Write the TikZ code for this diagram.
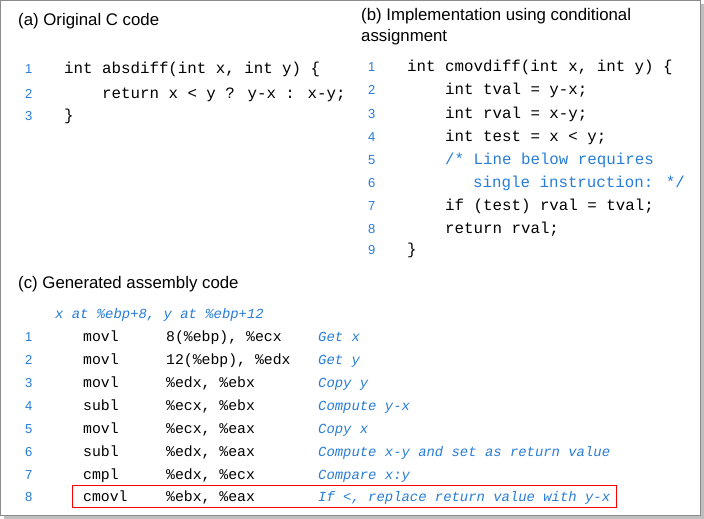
\documentclass[tikz,border=0pt]{standalone}
\usepackage{fontspec}
\setmainfont{Liberation Sans}
\newfontfamily\codefont{Liberation Mono}
\usetikzlibrary{positioning}
\definecolor{codeblue}{RGB}{40,125,215}
\begin{document}
\begin{tikzpicture}[x=1pt,y=-1pt,
        txt/.style = {anchor=base west, inner sep=0pt},
        head/.style = {txt, font=\fontsize{16.8}{19}\selectfont},
        num/.style = {txt, text=codeblue, font=\fontsize{13}{15}\selectfont},
        code/.style = {txt, font=\codefont\fontsize{15.8}{18}\selectfont},
        asm/.style = {txt, font=\codefont\fontsize{14.8}{17}\selectfont},
        note/.style = {txt, text=codeblue, font=\codefont\itshape\fontsize{13.9}{16}\selectfont}]

        \useasboundingbox (0,0) rectangle (704,519);
        \fill[black!25] (4,4) rectangle (704,519);
        \draw[black!45,fill=white] (0.5,0.5) rectangle (700,515);

        % (a)
        \node[head] (ta) at (18,26) {(a) Original C code};
        \foreach \n/\y in {1/74,2/98,3/120}
            \node[num] (na\n) at (25,\y) {\n};
        \node[code] (a1) at (64,74) {int absdiff(int x, int y) \{};
        \node[code] (a2) at (102,98) {return x < y ? y-x : x-y;};
        \node[code] (a3) at (64,120) {\}};

        % (b)
        \node[head] (tb) at (361,21) {(b) Implementation using conditional};
        \node[head] (tb2) at (361,42) {assignment};
        \foreach \n/\y in {1/72,2/95,3/118,4/141,5/164,6/187,7/210,8/233,9/254}
            \node[num] (nb\n) at (368,\y) {\n};
        \node[code] (b1) at (407,72) {int cmovdiff(int x, int y) \{};
        \node[code] (b2) at (445,95) {int tval = y-x;};
        \node[code] (b3) at (445,118) {int rval = x-y;};
        \node[code] (b4) at (445,141) {int test = x < y;};
        \node[code, text=codeblue] (b5) at (445,164) {/* Line below requires};
        \node[code, text=codeblue] (b6) at (473,187) {single instruction: */};
        \node[code] (b7) at (445,210) {if (test) rval = tval;};
        \node[code] (b8) at (445,233) {return rval;};
        \node[code] (b9) at (407,254) {\}};

        % (c)
        \node[head] (tc) at (18,288) {(c) Generated assembly code};
        \node[note] (xy) at (55,318) {x at \%ebp+8, y at \%ebp+12};
        \foreach \n/\y/\op/\arg/\cm in {
            1/341/movl/{8(\%ebp), \%ecx}/{Get x},
            2/364/movl/{12(\%ebp), \%edx}/{Get y},
            3/387/movl/{\%edx, \%ebx}/{Copy y},
            4/410/subl/{\%ecx, \%ebx}/{Compute y-x},
            5/433/movl/{\%ecx, \%eax}/{Copy x},
            6/456/subl/{\%edx, \%eax}/{Compute x-y and set as return value},
            7/479/cmpl/{\%edx, \%ecx}/{Compare x:y},
            8/501/cmovl/{\%ebx, \%eax}/{If <, replace return value with y-x}} {
            \node[num] (nc\n) at (25,\y) {\n};
            \node[asm] (op\n) at (83,\y) {\op};
            \node[asm] (arg\n) at (166,\y) {\arg};
            \node[note] (cm\n) at (318,\y) {\cm};
        }
        \node[draw=red, line width=0.7pt, minimum width=544pt, minimum height=22pt,
              inner sep=0pt] (hl) at (344,496) {};
    \end{tikzpicture}
\end{document}
